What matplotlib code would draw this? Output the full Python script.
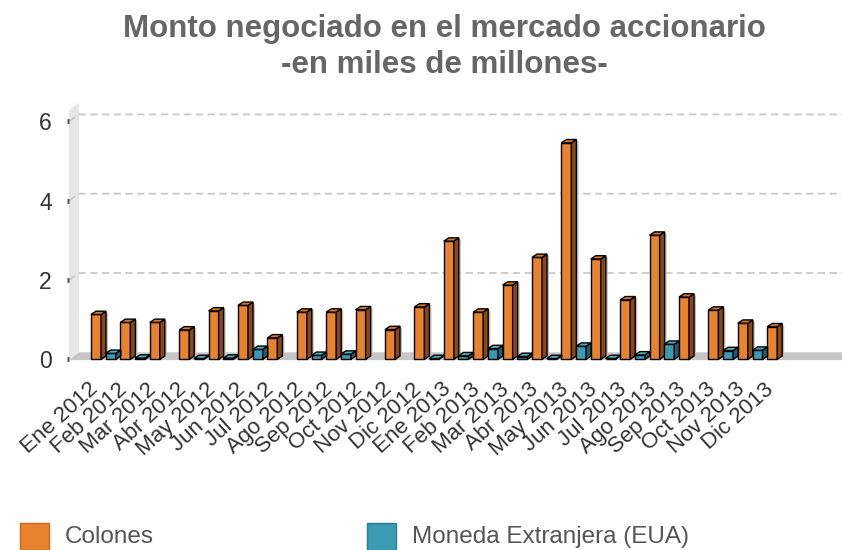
import matplotlib
matplotlib.use('Agg')
import matplotlib.pyplot as plt
from matplotlib.patches import Polygon, Rectangle

# ---------------- data ----------------
categories = ['Ene 2012', 'Feb 2012', 'Mar 2012', 'Abr 2012', 'May 2012', 'Jun 2012',
              'Jul 2012', 'Ago 2012', 'Sep 2012', 'Oct 2012', 'Nov 2012', 'Dic 2012',
              'Ene 2013', 'Feb 2013', 'Mar 2013', 'Abr 2013', 'May 2013', 'Jun 2013',
              'Jul 2013', 'Ago 2013', 'Sep 2013', 'Oct 2013', 'Nov 2013', 'Dic 2013']
colones = [1.13, 0.93, 0.93, 0.74, 1.22, 1.36, 0.54, 1.19, 1.19, 1.25, 0.75, 1.32,
           2.98, 1.19, 1.87, 2.57, 5.46, 2.53, 1.50, 3.13, 1.57, 1.24, 0.91, 0.82]
extranjera = [0.15, 0.03, None, 0.02, 0.03, 0.25, None, 0.10, 0.13, None, None, 0.02,
              0.09, 0.27, 0.07, 0.02, 0.33, 0.02, 0.11, 0.38, None, 0.22, 0.23, None]
series_names = ['Colones', 'Moneda Extranjera (EUA)']
y_ticks = [0, 2, 4, 6]

# ---------------- styling ----------------
W, H = 842, 550
FONT = 'Liberation Sans'
plt.rcParams['font.family'] = [FONT, 'DejaVu Sans']

SLOT_PX = 14.7          # px per bar slot
X0_PX = 96.0            # centre of first slot
Y0_PX = 359.3           # value 0
UNIT_PX = 39.65         # px per value unit

ax_l, ax_r, ax_t, ax_b = 60, 842, 95, 362
fig = plt.figure(figsize=(W / 100, H / 100), dpi=100)
ax = fig.add_axes([ax_l / W, (H - ax_b) / H, (ax_r - ax_l) / W, (ax_b - ax_t) / H])
ax.set_xlim((ax_l - X0_PX) / SLOT_PX, (ax_r - X0_PX) / SLOT_PX)
ax.set_ylim((Y0_PX - ax_b) / UNIT_PX, (Y0_PX - ax_t) / UNIT_PX)
for s in ax.spines.values():
    s.set_visible(False)
ax.set_facecolor('none')

dxp = 1.0 / SLOT_PX   # slots per pixel
dyp = 1.0 / UNIT_PX   # value units per pixel

def xs(px):
    return (px - X0_PX) / SLOT_PX

# wall
wall_f, wall_b = xs(69), xs(79)
wall = Polygon([(wall_f, -0.02), (wall_f, (Y0_PX - 110) / UNIT_PX),
                (wall_b, (Y0_PX - 103) / UNIT_PX), (wall_b, 7 * dyp)],
               closed=True, facecolor='#e6e6e6', edgecolor='none', zorder=1, clip_on=False)
ax.add_patch(wall)
# floor
xr = xs(842)
floor = Polygon([(wall_f, -0.02), (wall_b, 7 * dyp), (xr, 7 * dyp), (xr, -0.02)],
                closed=True, facecolor='#c6c6c6', edgecolor='none', zorder=1, clip_on=False)
ax.add_patch(floor)

# grid lines (back wall, offset by depth)
for v in y_ticks[1:]:
    ax.plot([wall_f, wall_b, xr], [v, v + 7 * dyp, v + 7 * dyp], ls=(0, (4, 2.5)),
            color='#c8c8c8', lw=1.3, zorder=1.5, clip_on=False)

# tick marks on wall
for v in y_ticks:
    ax.plot([xs(66.7), xs(69)], [v, v], color='#555555', lw=3.5, solid_capstyle='butt',
            zorder=2, clip_on=False)

# bars
bw = 10 / SLOT_PX
ddx, ddy = 5 * dxp, 3.3 * dyp
styles = [dict(front='#e8822c', side='#8a4818', top='#d9772a'),
          dict(front='#3b9bb5', side='#1f5d70', top='#4aaec6')]

def draw_bars(positions, values, st):
    pos = [p for p, v in zip(positions, values) if v is not None]
    vals = [v for v in values if v is not None]
    bars = ax.bar(pos, vals, width=bw, color=st['front'], edgecolor='black', lw=1.0, zorder=3)
    for rect in bars:
        xl = rect.get_x()
        xr_ = xl + rect.get_width()
        h = rect.get_height()
        side = Polygon([(xr_, 0), (xr_ + ddx, ddy), (xr_ + ddx, h + ddy), (xr_, h)],
                       closed=True, facecolor=st['side'], edgecolor='black', lw=1.0, zorder=3)
        top = Polygon([(xl, h), (xl + ddx, h + ddy), (xr_ + ddx, h + ddy), (xr_, h)],
                      closed=True, facecolor=st['top'], edgecolor='black', lw=1.0, zorder=3)
        shadow = Polygon([(xr_ + ddx, ddy), (xr_ + ddx + 2 * dxp, ddy),
                          (xr_ + ddx + 2 * dxp, h + ddy - 2 * dyp), (xr_ + ddx, h + ddy)],
                         closed=True, facecolor='#bdbdbd', edgecolor='none', zorder=2.5)
        ax.add_patch(shadow)
        ax.add_patch(side)
        ax.add_patch(top)

n = len(categories)
draw_bars([2 * i for i in range(n)], colones, styles[0])
draw_bars([2 * i + 1 for i in range(n)], extranjera, styles[1])

# axes ticks / labels
ax.set_yticks(y_ticks)
ax.set_yticklabels([str(v) for v in y_ticks], fontsize=16.5, color='#333333')
ax.tick_params(axis='y', length=0, pad=6)
ax.set_xticks([2 * i - 0.55 for i in range(n)])
ax.set_xticklabels(categories, rotation=42, ha='right', va='top', rotation_mode='anchor',
                   fontsize=16, color='#333333')
ax.tick_params(axis='x', length=0, pad=12)

# title
fig.text(444 / W, 1 - 29 / H, 'Monto negociado en el mercado accionario', ha='center',
         va='center', fontsize=22.5, fontweight='bold', color='#666666')
fig.text(444 / W, 1 - 65 / H, '-en miles de millones-', ha='center',
         va='center', fontsize=22.5, fontweight='bold', color='#666666')

# legend
leg = [(20, styles[0]['front'], '#c56a1c', 65, series_names[0]),
       (367, styles[1]['front'], '#2a7d92', 412, series_names[1])]
for x_sq, fc, ec, x_tx, label in leg:
    fig.patches.append(Rectangle((x_sq / W, 0), 29 / W, 27 / H, transform=fig.transFigure,
                                 facecolor=fc, edgecolor=ec, lw=1, figure=fig))
    fig.text(x_tx / W, 1 - 537 / H, label, ha='left', va='center', fontsize=17.5,
             color='#555555')

fig.savefig('out.png', dpi=100)
